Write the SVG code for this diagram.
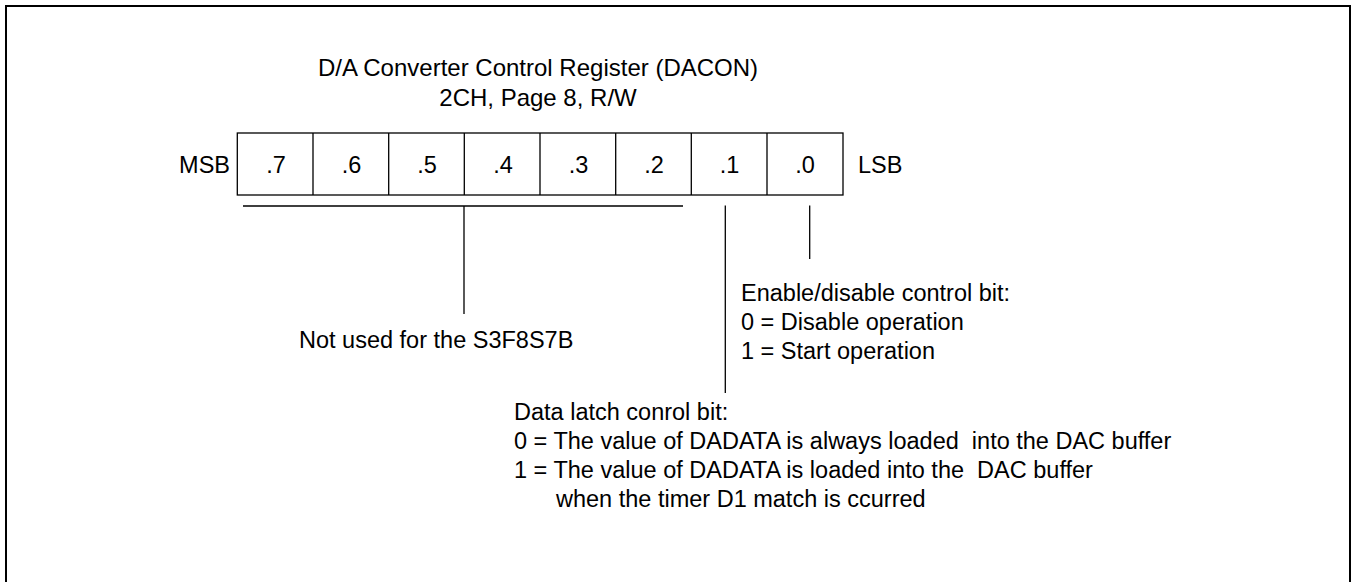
<svg xmlns="http://www.w3.org/2000/svg" width="1354" height="582" viewBox="0 0 1354 582">
<style>
text{font-family:"Liberation Sans",Arial,sans-serif;font-size:23.5px;fill:#000}
.c{text-anchor:middle}
.ln{stroke:#000;stroke-width:1.3;fill:none}
</style>
<rect x="0" y="0" width="1354" height="582" fill="#fff"/>
<rect id="frame" x="6" y="6" width="1344" height="620" fill="none" stroke="#000" stroke-width="2"/>
<g id="title">
<text class="c" x="538" y="76" style="font-size:24px">D/A Converter Control Register (DACON)</text>
<text class="c" x="538" y="106" style="font-size:24px">2CH, Page 8, R/W</text>
</g>
<g id="register">
<text x="230" y="173" text-anchor="end">MSB</text>
<rect class="ln" x="237.3" y="133" width="605.7" height="62"/>
<path class="ln" d="M313 133V195M388.7 133V195M464.3 133V195M540 133V195M615.7 133V195M691.3 133V195M767 133V195"/>
<text class="c" x="276" y="173">.7</text>
<text class="c" x="351.5" y="173">.6</text>
<text class="c" x="427" y="173">.5</text>
<text class="c" x="503" y="173">.4</text>
<text class="c" x="578.5" y="173">.3</text>
<text class="c" x="654" y="173">.2</text>
<text class="c" x="729.5" y="173">.1</text>
<text class="c" x="805" y="173">.0</text>
<text x="858" y="173">LSB</text>
</g>
<g id="connectors">
<path class="ln" d="M243 206H683M464 206V314"/>
<path class="ln" d="M725.3 205.5V393"/>
<path class="ln" d="M809.7 205.5V259"/>
</g>
<g id="bits7-2">
<text x="299" y="348">Not used for the S3F8S7B</text>
</g>
<g id="bit0">
<text x="741" y="301">Enable/disable control bit:</text>
<text x="741" y="330">0 = Disable operation</text>
<text x="741" y="359">1 = Start operation</text>
</g>
<g id="bit1">
<text x="514" y="420">Data latch conrol bit:</text>
<text x="514" y="449" xml:space="preserve">0 = The value of DADATA is always loaded  into the DAC buffer</text>
<text x="514" y="478" xml:space="preserve">1 = The value of DADATA is loaded into the  DAC buffer</text>
<text x="556" y="507">when the timer D1 match is ccurred</text>
</g>
</svg>
